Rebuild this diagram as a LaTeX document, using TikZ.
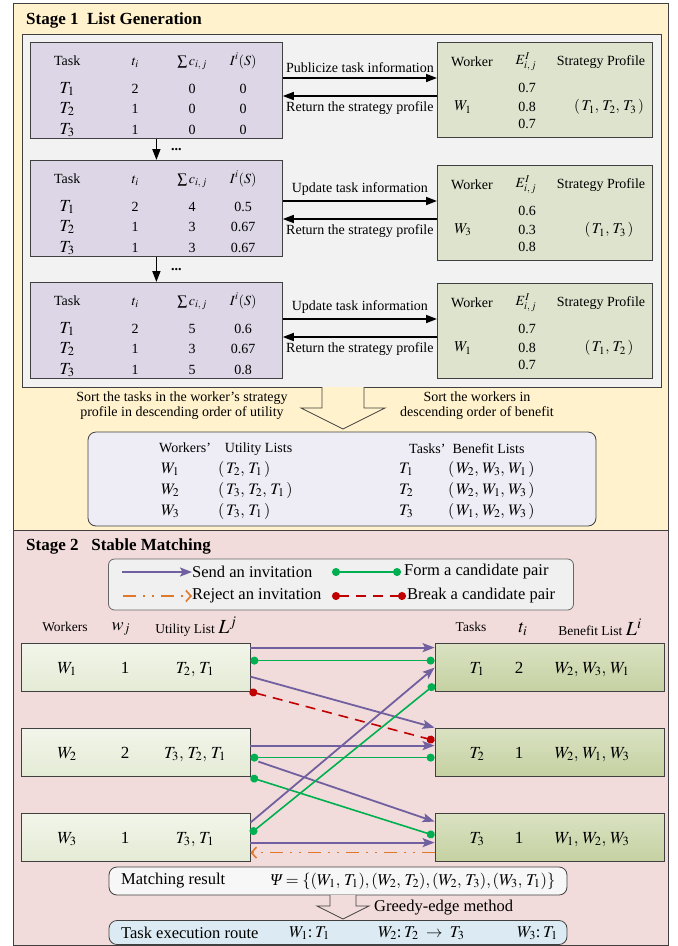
\documentclass[tikz,border=0pt]{standalone}
\usepackage{mathptmx}
\usepackage[no-math]{fontspec}
\setmainfont{Liberation Serif}
\usepackage{xcolor}
\usetikzlibrary{arrows.meta, positioning}

\definecolor{edge}{HTML}{404040}
\definecolor{bgA}{HTML}{FFF2CC}
\definecolor{bgB}{HTML}{F2DCDB}
\definecolor{panel}{HTML}{F2F2F2}
\definecolor{tabfill}{HTML}{DCD6E6}
\definecolor{wkfill}{HTML}{DDE3CD}
\definecolor{listfill}{HTML}{EEECF4}
\definecolor{legfill}{HTML}{F0F0F0}
\definecolor{resfill}{HTML}{F7F7F7}
\definecolor{routefill}{HTML}{DCEBF3}
\definecolor{wTop}{HTML}{F2F5EA}
\definecolor{wBot}{HTML}{E4EBD5}
\definecolor{tTop}{HTML}{DAE2C2}
\definecolor{tBot}{HTML}{C5D1A2}
\definecolor{invP}{HTML}{7060A0}
\definecolor{pairG}{HTML}{00B050}
\definecolor{brkR}{HTML}{C00000}
\definecolor{rejO}{HTML}{E0782C}

% big italic T in the task tables
\newcommand{\mT}[1]{{\fontsize{17}{17}\selectfont$T_{#1}$}}
% one table row, columns centred at fixed offsets
\newcommand{\trow}[4]{\makebox[0pt]{#1}\hspace{68pt}\makebox[0pt]{#2}\hspace{57pt}\makebox[0pt]{#3}\hspace{51pt}\makebox[0pt]{#4}}

\begin{document}
\begin{tikzpicture}[x=1pt, y=-1pt,
    txt/.style={font=\fontsize{14}{15}\selectfont, inner sep=0pt},
    big/.style={font=\fontsize{17}{19}\selectfont, inner sep=0pt},
    lgt/.style={font=\fontsize{16.5}{18}\selectfont, inner sep=0pt, anchor=west},
    ttl/.style={font=\fontsize{17}{19}\selectfont\bfseries, inner sep=0pt, anchor=west},
    tabbox/.style={rectangle, draw=edge, fill=tabfill, line width=0.8pt,
                   minimum width=252pt, minimum height=96pt, anchor=north west},
    wkbox/.style={rectangle, draw=edge, fill=wkfill, line width=0.8pt,
                  minimum width=215pt, minimum height=95pt, anchor=north west},
    listbox/.style={rectangle, rounded corners=8pt, draw=edge, fill=listfill,
                    line width=0.8pt, minimum width=508pt, minimum height=94pt},
    legbox/.style={rectangle, rounded corners=6pt, draw=edge!80, fill=legfill,
                   line width=0.8pt, minimum width=465pt, minimum height=51pt},
    resbox/.style={rectangle, rounded corners=8pt, draw=edge, line width=0.8pt,
                   minimum width=458pt},
    wbox/.style={rectangle, draw=edge, line width=0.8pt, top color=wTop,
                 bottom color=wBot, minimum width=229pt, minimum height=48pt},
    tbox/.style={rectangle, draw=edge, line width=0.8pt, top color=tTop,
                 bottom color=tBot, minimum width=229pt, minimum height=48pt},
    arr/.style={-{Triangle[length=11pt, width=8pt]}, line width=1.6pt},
    parr/.style={-{Stealth[length=12pt, width=9pt, inset=2.5pt]}, line width=1.8pt, invP},
    gline/.style={{Circle[length=8pt]}-{Circle[length=8pt]}, line width=1.6pt, pairG},
    rline/.style={{Circle[length=8pt]}-{Circle[length=8pt]}, line width=1.6pt, brkR,
                  dash pattern=on 10pt off 7pt},
    oarr/.style={-{Straight Barb[length=5pt, width=11pt]}, line width=1.6pt, rejO,
                 dash pattern=on 13pt off 7pt on 2pt off 7pt on 2pt off 7pt}]

    \useasboundingbox (0,0) rectangle (678,946);

    % ---------------- Stage 1 ----------------
    \draw[edge, line width=1pt, fill=bgA] (13,3) rectangle (668,530);
    \node[ttl] (st1) at (26,20) {Stage 1\ \ List Generation};

    \fill[panel] (22,34) rectangle (661,387);
    \draw[edge, line width=0.8pt] (322,387) -| (22,34) -| (661,387) -- (364,387);
    \draw[edge, line width=0.8pt, fill=bgA] (322,387) -- (322,408) -- (301,408)
        -- (343,429) -- (385,408) -- (364,408) -- (364,387);

    \foreach \n/\yy/\cA/\cB/\cC/\rA/\rB/\rC in {a/42/0/0/0/0/0/0,
        b/160/4/3/3/0.5/0.67/0.67, c/282/5/3/5/0.6/0.67/0.8}{
      \node[tabbox] (tab\n) at (30,\yy) {};
      \node[txt, anchor=base west] (tab\n-h) at (67,\yy+23)
          {\trow{Task}{$t_i$}{$\sum c_{i,\,j}$}{$I^{i}(S)$}};
      \node[txt, anchor=base west] (tab\n-1) at (67,\yy+51) {\trow{\mT1}{2}{\cA}{\rA}};
      \node[txt, anchor=base west] (tab\n-2) at (67,\yy+71) {\trow{\mT2}{1}{\cB}{\rB}};
      \node[txt, anchor=base west] (tab\n-3) at (67,\yy+92) {\trow{\mT3}{1}{\cC}{\rC}};
    }

    \foreach \n/\yy/\wi/\eA/\eB/\eC/\prof in {a/42/1/0.7/0.8/0.7/{$(\,T_1,\,T_2,\,T_3\,)$},
        b/165/3/0.6/0.3/0.8/{$(\,T_1,\,T_3\,)$}, c/283/1/0.7/0.8/0.7/{$(\,T_1,\,T_2\,)$}}{
      \node[wkbox] (wk\n) at (437,\yy) {};
      \node[txt] (wk\n-h1) at (472,\yy+20) {Worker};
      \node[txt] (wk\n-h2) at (526,\yy+20) {$E^{I}_{i,\,j}$};
      \node[txt] (wk\n-h3) at (601,\yy+20) {Strategy Profile};
      \node[txt] (wk\n-e1) at (527,\yy+46) {\eA};
      \node[txt] (wk\n-e2) at (527,\yy+65) {\eB};
      \node[txt] (wk\n-e3) at (527,\yy+82) {\eC};
      \node[txt, font=\fontsize{15}{15}\selectfont] (wk\n-w) at (463,\yy+65) {$W_{\wi}$};
      \node[txt, font=\fontsize{15}{15}\selectfont] (wk\n-s) at (609,\yy+65) {\prof};
    }

    \foreach \n/\lab in {a/Publicize task information, b/Update task information,
        c/Update task information}{
      \coordinate (ra\n) at ([yshift=-36pt]wk\n.north west);
      \coordinate (la\n) at ([yshift=-54pt]wk\n.north west);
      \draw[arr] (tab\n.east |- ra\n) -- node[txt, above=5pt] (up\n) {\lab} (ra\n);
      \draw[arr] (la\n) -- node[txt, below=5pt] (ret\n) {Return the strategy profile}
          (tab\n.east |- la\n);
    }

    \draw[arr] (taba.south) -- node[txt, right=14pt] (dotsa) {\textbf{...}} (tabb.north);
    \draw[arr] (tabb.south) -- node[txt, right=14pt] (dotsb) {\textbf{...}} (tabc.north);

    \node[txt, align=center] (sortT) at (182,406)
        {Sort the tasks in the worker's strategy\\profile in descending order of utility};
    \node[txt, align=center] (sortW) at (477,406)
        {Sort the workers in\\descending order of benefit};

    \node[listbox] (lists) at (342,479) {};
    \node[txt, anchor=west] (lsW) at (159,449) {Workers’\quad Utility Lists};
    \node[txt, anchor=west] (lsT) at (409,449) {Tasks’~~Benefit Lists};
    \foreach \k/\ul/\bl in {1/{$(\,T_2,\,T_1\,)$}/{$(\,W_2,\,W_3,\,W_1\,)$},
        2/{$(\,T_3,\,T_2,\,T_1\,)$}/{$(\,W_2,\,W_1,\,W_3\,)$},
        3/{$(\,T_3,\,T_1\,)$}/{$(\,W_1,\,W_2,\,W_3\,)$}}{
      \node[txt, font=\fontsize{16}{16}\selectfont, anchor=base west] (lw\k)
          at (161,{452+21*\k}) {$W_{\k}$};
      \node[txt, font=\fontsize{16}{16}\selectfont, anchor=base west] (lu\k)
          at (218,{452+21*\k}) {\ul};
      \node[txt, font=\fontsize{16}{16}\selectfont, anchor=base west] (lt\k)
          at (399,{452+21*\k}) {$T_{\k}$};
      \node[txt, font=\fontsize{16}{16}\selectfont, anchor=base west] (lb\k)
          at (448,{452+21*\k}) {\bl};
    }

    % ---------------- Stage 2 ----------------
    \draw[edge, line width=1pt, fill=bgB] (13,530) rectangle (668,945);
    \node[ttl] (st2) at (26,546) {Stage 2\ \ \ Stable Matching};

    \node[legbox] (leg) at (341,584.5) {};
    \coordinate (lg1) at (122,572);
    \node[lgt] (lsend) at (192,572) {Send an invitation};
    \draw[parr] (lg1) -- (lsend.west);
    \coordinate (lg2) at (332,572);
    \node[lgt] (lform) at (404,572) {Form a candidate pair};
    \draw[gline] (lg2) -- ([xshift=-3pt]lform.west);
    \coordinate (lg3) at (123,596);
    \node[lgt] (lrej) at (192,596) {Reject an invitation};
    \draw[oarr] (lg3) -- (lrej.west);
    \coordinate (lg4) at (332,596);
    \node[lgt] (lbrk) at (407,596) {Break a candidate pair};
    \draw[rline] (lg4) -- ([xshift=-1pt]lbrk.west);

    \node[txt, font=\fontsize{13.5}{14}\selectfont] (hwk) at (65,627) {Workers};
    \node[txt, font=\fontsize{18}{18}\selectfont] (hwj) at (121,629) {$w_j$};
    \node[txt, font=\fontsize{13.5}{14}\selectfont] (hul) at (196,627)
        {Utility List {\fontsize{20}{20}\selectfont$L^{j}$}};
    \node[txt, font=\fontsize{13.5}{14}\selectfont] (htk) at (471,627) {Tasks};
    \node[txt, font=\fontsize{18}{18}\selectfont] (hti) at (523,629) {$t_i$};
    \node[txt, font=\fontsize{13.5}{14}\selectfont] (hbl) at (600,627)
        {Benefit List {\fontsize{20}{20}\selectfont$L^{i}$}};

    \foreach \n/\yy/\wq/\wl in {1/667/1/{$T_2,\,T_1$}, 2/752/2/{$T_3,\,T_2,\,T_1$},
        3/837/1/{$T_3,\,T_1$}}{
      \node[wbox] (w\n) at (135.5,\yy) {};
      \node[big, anchor=base] (w\n-id) at (67,\yy+6) {$W_{\n}$};
      \node[big, anchor=base] (w\n-q) at (125,\yy+6) {\wq};
      \node[big, anchor=base] (w\n-l) at (195,\yy+6) {\wl};
    }
    \foreach \n/\yy/\tq/\tl in {1/667/2/{$W_2,\,W_3,\,W_1$}, 2/752/1/{$W_2,\,W_1,\,W_3$},
        3/837/1/{$W_1,\,W_2,\,W_3$}}{
      \node[tbox] (t\n) at (549.5,\yy) {};
      \node[big, anchor=base] (t\n-id) at (477,\yy+6) {$T_{\n}$};
      \node[big, anchor=base] (t\n-q) at (519,\yy+6) {\tq};
      \node[big, anchor=base] (t\n-l) at (592,\yy+6) {\tl};
    }

    % invitations, pairs, break and reject
    \draw[parr] ([yshift=-5pt]w1.north east) -- ([yshift=-5pt]t1.north west);
    \draw[gline] ([yshift=-18pt]w1.north east) -- ([yshift=-18pt]t1.north west);
    \draw[parr] ([yshift=-34pt]w1.north east) -- (t2.north west);
    \draw[rline] ([xshift=-1pt]w1.south east) -- ([yshift=-13pt]t2.north west);
    \draw[parr] ([yshift=-18pt]w2.north east) -- ([yshift=-18pt]t2.north west);
    \draw[gline] ([yshift=-30pt]w2.north east) -- ([yshift=-30pt]t2.north west);
    \draw[parr] ([xshift=8pt, yshift=-34pt]w2.north east) -- ([yshift=-9pt]t3.north west);
    \draw[gline] ([yshift=-1pt]w2.south east) -- ([yshift=-23pt]t3.north west);
    \draw[parr] ([yshift=-10pt]w3.north east) -- ([yshift=-25pt]t1.north west);
    \draw[gline] ([yshift=-21pt]w3.north east) -- ([yshift=-42pt]t1.north west);
    \draw[parr] ([yshift=-30pt]w3.north east) -- ([yshift=-30pt]t3.north west);
    \draw[oarr] ([yshift=-40pt]t3.north west) -- ([yshift=-40pt]w3.north east);

    % result and route
    \node[resbox, fill=resfill, minimum height=28pt] (match) at (338,881) {};
    \node[lgt] (mres) at (121,881) {Matching result};
    \node[lgt] (mpsi) at (270,881)
        {{\itshape Ψ} $=\{(W_1,\,T_1), (W_2,\,T_2), (W_2,\,T_3), (W_3,\,T_1)\}$};
    \draw[edge, line width=0.8pt, fill=bgB] (330,895) -- (330,906) -- (317,906)
        -- (343,919) -- (369,906) -- (356,906) -- (356,895);
    \node[lgt] (greedy) at (374,908) {Greedy-edge method};
    \node[resbox, fill=routefill, minimum height=24pt] (route) at (338,932.5) {};
    \node[lgt] (rt0) at (121,933) {Task execution route};
    \node[lgt] (rt1) at (289,933) {$W_1$:\,$T_1$};
    \node[lgt] (rt2) at (378,933) {$W_2$:\,$T_2\;\rightarrow\;T_3$};
    \node[lgt] (rt3) at (517,933) {$W_3$:\,$T_1$};
\end{tikzpicture}
\end{document}
